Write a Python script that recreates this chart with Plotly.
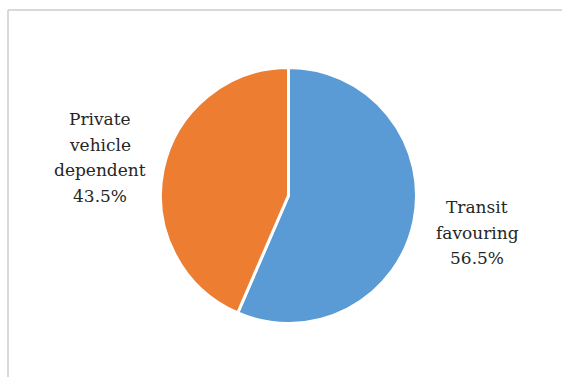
import plotly.graph_objects as go

labels = ["Transit favouring", "Private vehicle dependent"]
label_lines = [["Transit", "favouring"], ["Private", "vehicle", "dependent"]]
values = [56.5, 43.5]
colors = ["#5B9BD5", "#ED7D31"]

W, H = 562, 377
CX, CY, R = 288.5, 195.5, 128

fig = go.Figure()
fig.add_trace(go.Pie(
    labels=labels,
    values=values,
    sort=False,
    direction="clockwise",
    rotation=0,
    marker=dict(colors=colors, line=dict(color="white", width=3)),
    textinfo="none",
    hoverinfo="label+percent",
    showlegend=False,
    domain=dict(x=[(CX - R) / W, (CX + R) / W], y=[1 - (CY + R) / H, 1 - (CY - R) / H]),
))

# label block anchors (center x, first-line y) in pixels
anchors = [(477, 207), (100, 119)]
line_gap = 25.7
for lines, val, (ax, ay) in zip(label_lines, values, anchors):
    all_lines = lines + [f"{val:.1f}%"]
    for i, txt in enumerate(all_lines):
        fig.add_annotation(
            x=ax / W, y=1 - (ay + i * line_gap) / H, xref="paper", yref="paper",
            text=txt, showarrow=False, align="center",
            font=dict(family="DejaVu Serif", size=17, color="#262626"),
            xanchor="center", yanchor="middle",
        )

# frame: left and top edges
fig.add_shape(type="line", xref="paper", yref="paper",
              x0=8 / W, x1=8 / W, y0=0, y1=1 - 10 / H,
              line=dict(color="#d9d9d9", width=2))
fig.add_shape(type="line", xref="paper", yref="paper",
              x0=8 / W, x1=1, y0=1 - 10 / H, y1=1 - 10 / H,
              line=dict(color="#d9d9d9", width=2))

fig.update_layout(
    width=W, height=H,
    margin=dict(l=0, r=0, t=0, b=0),
    paper_bgcolor="white", plot_bgcolor="white",
    font=dict(family="DejaVu Serif"),
)

fig.write_html("out.html", config={"displayModeBar": False})
